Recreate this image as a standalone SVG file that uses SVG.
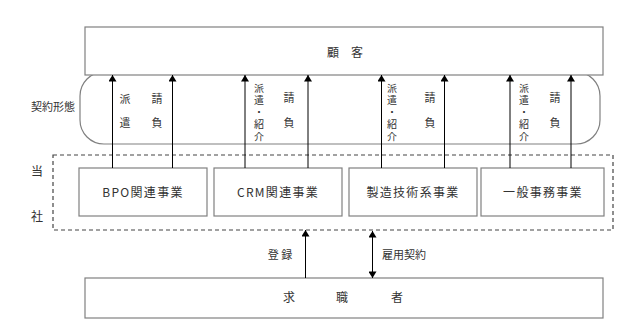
<svg xmlns="http://www.w3.org/2000/svg" width="640" height="327" viewBox="0 0 640 327">
<style>
text{font-family:"Noto Sans CJK JP","Noto Sans CJK SC",sans-serif;fill:#333;}
.box{fill:#fff;stroke:#808080;stroke-width:1.2;}
.lbl{font-size:12px;text-anchor:middle;}
.biz{font-size:12px;text-anchor:middle;letter-spacing:1.3px;}
.sm{font-size:11px;text-anchor:middle;}
.vt{font-size:10px;writing-mode:vertical-rl;letter-spacing:2.2px;}
.ln{stroke:#000;stroke-width:1;fill:none;}
</style>
<defs>
<marker id="ah" viewBox="0 0 8 10" refX="8" refY="5" markerWidth="7" markerHeight="8" orient="auto" markerUnits="userSpaceOnUse">
<path d="M0,0 L8,5 L0,10 Z" fill="#000"/>
</marker>
</defs>
<rect width="640" height="327" fill="#fff"/>
<g id="contract-band">
<rect x="80" y="72" width="520" height="72" rx="24" ry="24" fill="none" stroke="#808080" stroke-width="1.2"/>
<text class="sm" x="53" y="111">契約形態</text>
</g>
<g id="company">
<rect x="53" y="155" width="560" height="75" fill="none" stroke="#444" stroke-width="1.2" stroke-dasharray="4,3"/>
<text class="lbl" x="37" y="176">当</text>
<text class="lbl" x="37" y="221">社</text>
</g>
<g id="customer">
<rect class="box" x="85" y="27" width="518" height="48"/>
<text class="lbl" x="345" y="57" xml:space="preserve">顧　客</text>
</g>
<g id="jobseeker">
<rect class="box" x="85" y="278" width="518" height="40"/>
<text class="lbl" x="289" y="302">求</text>
<text class="lbl" x="342" y="302">職</text>
<text class="lbl" x="397" y="302">者</text>
</g>
<g id="bpo">
<rect class="box" x="79" y="168" width="128" height="48"/>
<text class="biz" x="143" y="197">BPO関連事業</text>
</g>
<g id="crm">
<rect class="box" x="214" y="168" width="128" height="48"/>
<text class="biz" x="278" y="197">CRM関連事業</text>
</g>
<g id="manufacturing">
<rect class="box" x="349" y="168" width="128" height="48"/>
<text class="biz" x="413" y="197">製造技術系事業</text>
</g>
<g id="office">
<rect class="box" x="481" y="168" width="123" height="48"/>
<text class="biz" x="543" y="197">一般事務事業</text>
</g>
<g id="connectors">
<line class="ln" x1="112.5" y1="168" x2="112.5" y2="75" marker-end="url(#ah)"/>
<line class="ln" x1="172.5" y1="168" x2="172.5" y2="75" marker-end="url(#ah)"/>
<line class="ln" x1="245" y1="168" x2="245" y2="75" marker-end="url(#ah)"/>
<line class="ln" x1="308" y1="168" x2="308" y2="75" marker-end="url(#ah)"/>
<line class="ln" x1="381.5" y1="168" x2="381.5" y2="75" marker-end="url(#ah)"/>
<line class="ln" x1="444.5" y1="168" x2="444.5" y2="75" marker-end="url(#ah)"/>
<line class="ln" x1="510" y1="168" x2="510" y2="75" marker-end="url(#ah)"/>
<line class="ln" x1="571" y1="168" x2="571" y2="75" marker-end="url(#ah)"/>
<line class="ln" x1="305.5" y1="278" x2="305.5" y2="230" marker-end="url(#ah)"/>
<line class="ln" x1="372.5" y1="240" x2="372.5" y2="231" marker-end="url(#ah)"/>
<line class="ln" x1="372.5" y1="240" x2="372.5" y2="278" marker-end="url(#ah)"/>
<text class="sm" x="280" y="259" xml:space="preserve">登 録</text>
<text class="sm" x="404" y="259">雇用契約</text>
<text class="sm" x="125" y="103">派</text>
<text class="sm" x="125" y="127">遣</text>
<text class="sm" x="157" y="103">請</text>
<text class="sm" x="157" y="127">負</text>
<text class="vt" x="259" y="83">派遣・紹介</text>
<text class="sm" x="289" y="102">請</text>
<text class="sm" x="289" y="127">負</text>
<text class="vt" x="392" y="83">派遣・紹介</text>
<text class="sm" x="430" y="102">請</text>
<text class="sm" x="430" y="127">負</text>
<text class="vt" x="524" y="83">派遣・紹介</text>
<text class="sm" x="555" y="102">請</text>
<text class="sm" x="555" y="127">負</text>
</g>
</svg>
